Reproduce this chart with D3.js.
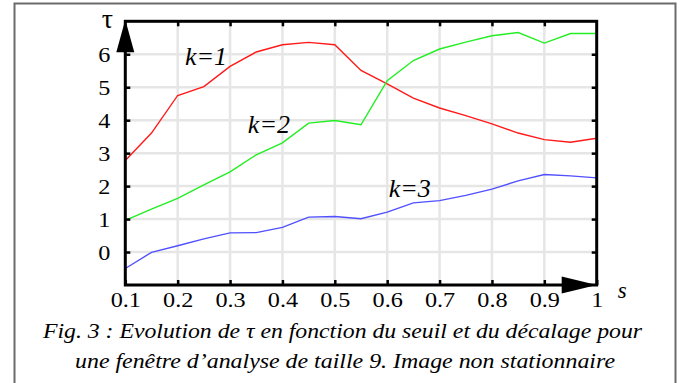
<!DOCTYPE html>
<html>
<head>
<meta charset="utf-8">
<script src="https://cdn.jsdelivr.net/npm/d3@7"></script>
</head>
<body style="margin:0">
<script>
// data
const S_VALUES = [0.1, 0.15, 0.2, 0.25, 0.3, 0.35, 0.4, 0.45, 0.5, 0.55, 0.6, 0.65, 0.7, 0.75, 0.8, 0.85, 0.9, 0.95, 1.0];
const TAU_K1 = [2.78, 3.61, 4.75, 5.02, 5.63, 6.07, 6.29, 6.36, 6.29, 5.51, 5.10, 4.67, 4.37, 4.14, 3.89, 3.61, 3.41, 3.33, 3.45];
const TAU_K2 = [0.96, 1.30, 1.63, 2.04, 2.43, 2.95, 3.31, 3.91, 3.99, 3.86, 5.20, 5.81, 6.16, 6.37, 6.56, 6.66, 6.34, 6.63, 6.63];
const TAU_K3 = [-0.50, -0.01, 0.19, 0.40, 0.58, 0.59, 0.75, 1.06, 1.08, 1.01, 1.21, 1.49, 1.56, 1.72, 1.91, 2.16, 2.35, 2.31, 2.25];
const SERIES_LABELS = ["k=1", "k=2", "k=3"];
const X_TICKS = [0.1, 0.2, 0.3, 0.4, 0.5, 0.6, 0.7, 0.8, 0.9, 1];
const Y_TICKS = [0, 1, 2, 3, 4, 5, 6];
const CAPTION = ["Fig. 3 : Evolution de \u03c4 en fonction du seuil et du d\u00e9calage pour",
                 "une fen\u00eatre d\u2019analyse de taille 9. Image non stationnaire"];

// frame size
const FRAME_WIDTH = 687;
const FRAME_HEIGHT = 383;
const MARGINS = {left: 125.3, right: 90.3, top: 21.3, bottom: 98};
const VIS_WIDTH = FRAME_WIDTH - MARGINS.left - MARGINS.right;
const VIS_HEIGHT = FRAME_HEIGHT - MARGINS.top - MARGINS.bottom;
const SERIF = "Liberation Serif";
const STRETCH = "scale(1.1,1)";   // the original print is a bit wider than Times metrics

const FRAME = d3.select("body")
                .append("svg")
                  .attr("width", FRAME_WIDTH)
                  .attr("height", FRAME_HEIGHT)
                  .attr("font-family", SERIF)
                  .style("display", "block");

// outer box (open at the bottom)
FRAME.append("path")
       .attr("d", "M14.5,390 V3.5 H675.5 V390")
       .attr("fill", "none")
       .attr("stroke", "#6b6b6b")
       .attr("stroke-width", 2);

const X_SCALE = d3.scaleLinear().domain([0.1, 1]).range([0, VIS_WIDTH]);
const Y_SCALE = d3.scaleLinear().domain([-1, 7]).range([VIS_HEIGHT, 0]);

const G = FRAME.append("g")
               .attr("transform", "translate(" + MARGINS.left + "," + MARGINS.top + ")");

// grid
G.selectAll(".vgrid")
   .data(X_TICKS.slice(1, -1))
   .enter()
   .append("line")
     .attr("x1", (d) => {return X_SCALE(d);})
     .attr("x2", (d) => {return X_SCALE(d);})
     .attr("y1", 0)
     .attr("y2", VIS_HEIGHT)
     .attr("stroke", "#e6e6e6")
     .attr("stroke-width", 2.5);

G.selectAll(".hgrid")
   .data(Y_TICKS)
   .enter()
   .append("line")
     .attr("x1", 0)
     .attr("x2", VIS_WIDTH)
     .attr("y1", (d) => {return Y_SCALE(d);})
     .attr("y2", (d) => {return Y_SCALE(d);})
     .attr("stroke", "#e6e6e6")
     .attr("stroke-width", 2.5);

// series
const LINE = (vals) => d3.line()
                         .x((d, i) => {return X_SCALE(S_VALUES[i]);})
                         .y((d) => {return Y_SCALE(d);})(vals);

[[TAU_K1, "#ff1a1a"], [TAU_K2, "#22ee22"], [TAU_K3, "#5050ff"]].forEach(([vals, col]) => {
  G.append("path")
     .attr("d", LINE(vals))
     .attr("fill", "none")
     .attr("stroke", col)
     .attr("stroke-width", 1.4);
});

// axes with inward ticks
function styleAxis(sel) {
  sel.attr("font-family", SERIF).attr("font-size", 22);
  sel.select(".domain").remove();
  sel.selectAll(".tick line").attr("stroke", "#000").attr("stroke-width", 2.5);
  sel.selectAll(".tick text").attr("fill", "#000").attr("transform", STRETCH);
}

G.append("g")
   .attr("transform", "translate(0," + VIS_HEIGHT + ")")
   .call(d3.axisBottom(X_SCALE).tickValues(X_TICKS).tickSize(-5).tickPadding(6)
           .tickFormat((d) => {return d === 1 ? "1" : d3.format(".1f")(d);}))
   .call(styleAxis);

G.append("g")
   .call(d3.axisLeft(Y_SCALE).tickValues(Y_TICKS).tickSize(-5).tickPadding(13.5))
   .call(styleAxis);

G.append("g")
   .call(d3.axisTop(X_SCALE).tickValues(X_TICKS.slice(1, -1)).tickSize(-5).tickFormat(""))
   .call(styleAxis);

G.append("g")
   .attr("transform", "translate(" + VIS_WIDTH + ",0)")
   .call(d3.axisRight(Y_SCALE).tickValues(Y_TICKS).tickSize(-5).tickFormat(""))
   .call(styleAxis);

// frame lines
G.append("rect")
   .attr("x", 0)
   .attr("y", 0)
   .attr("width", VIS_WIDTH)
   .attr("height", VIS_HEIGHT)
   .attr("fill", "none")
   .attr("stroke", "#000")
   .attr("stroke-width", 3);

// arrows
G.append("path")
   .attr("d", "M0,-1.5 L9,31 L-9,31 Z")
   .attr("fill", "#000");
G.append("path")
   .attr("d", "M" + VIS_WIDTH + "," + VIS_HEIGHT + " l-35,-8.5 l0,17 Z")
   .attr("fill", "#000");

// axis titles
G.append("text")
   .attr("x", -18)
   .attr("y", 6.5)
   .attr("text-anchor", "middle")
   .attr("font-size", 28)
   .text("\u03c4");

G.append("text")
   .attr("x", VIS_WIDTH + 25.5)
   .attr("y", VIS_HEIGHT + 13)
   .attr("text-anchor", "middle")
   .attr("font-style", "italic")
   .attr("font-size", 23)
   .text("s");

// series labels
const LABEL_POS = [[0.214, 5.68], [0.334, 3.62], [0.603, 1.68]];
G.selectAll(".klabel")
   .data(SERIES_LABELS)
   .enter()
   .append("text")
     .attr("x", (d, i) => {return X_SCALE(LABEL_POS[i][0]);})
     .attr("y", (d, i) => {return Y_SCALE(LABEL_POS[i][1]);})
     .attr("font-style", "italic")
     .attr("font-size", 26)
     .text((d) => {return d;});

// caption
const CAPTION_X = [342.5, 345];
const CAPTION_LEN = [599, 540];
FRAME.selectAll(".caption")
       .data(CAPTION)
       .enter()
       .append("text")
         .attr("x", (d, i) => {return CAPTION_X[i];})
         .attr("y", (d, i) => {return 338 + i * 30;})
         .attr("text-anchor", "middle")
         .attr("font-style", "italic")
         .attr("font-size", 22)
         .attr("textLength", (d, i) => {return CAPTION_LEN[i];})
         .attr("lengthAdjust", "spacingAndGlyphs")
         .text((d) => {return d;});
</script>
</body>
</html>
